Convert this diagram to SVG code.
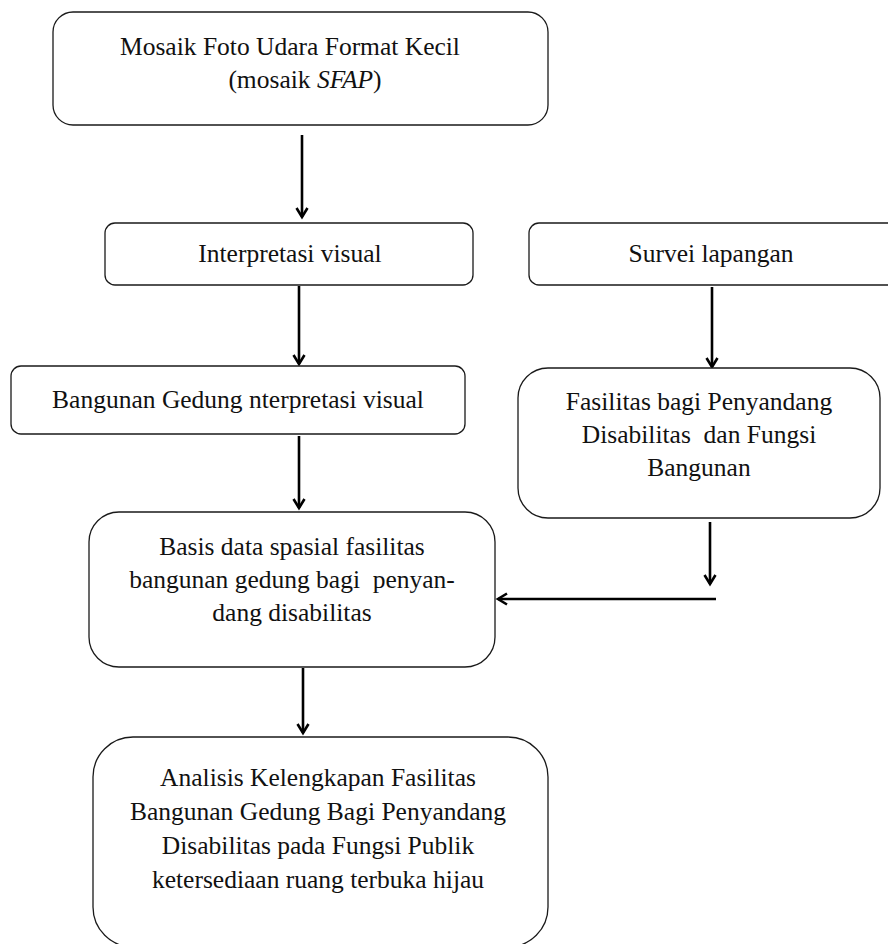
<svg xmlns="http://www.w3.org/2000/svg" width="888" height="944" viewBox="0 0 888 944">
<style>
.box{fill:#fff;stroke:#1a1a1a;stroke-width:1.3}
.t{font-family:"Liberation Serif","Times New Roman",serif;font-size:25.5px;fill:#111;text-anchor:middle}
.c{fill:none;stroke:#000;stroke-width:2.6}
</style>
<defs>
<marker id="ah" markerWidth="16" markerHeight="16" viewBox="-12 -8 16 16" refX="0" refY="0" orient="auto" markerUnits="userSpaceOnUse">
<path d="M-9,-5.5 L0,0 L-9,5.5" fill="none" stroke="#000" stroke-width="2.6"/>
</marker>
</defs>
<rect width="888" height="944" fill="#fff"/>
<g id="connectors">
<line class="c" x1="302" y1="135" x2="302" y2="217" marker-end="url(#ah)"/>
<line class="c" x1="299" y1="286" x2="299" y2="364" marker-end="url(#ah)"/>
<line class="c" x1="712" y1="287" x2="712" y2="367" marker-end="url(#ah)"/>
<line class="c" x1="299" y1="436" x2="299" y2="508" marker-end="url(#ah)"/>
<line class="c" x1="710" y1="522" x2="710" y2="584" marker-end="url(#ah)"/>
<line class="c" x1="716" y1="599" x2="498" y2="599" marker-end="url(#ah)"/>
<line class="c" x1="303" y1="668" x2="303" y2="733" marker-end="url(#ah)"/>
</g>
<g id="n1">
<rect class="box" x="53" y="12" width="495" height="113" rx="20"/>
<text class="t" x="290" y="55">Mosaik Foto Udara Format Kecil</text>
<text class="t" x="305" y="88">(mosaik <tspan font-style="italic">SFAP</tspan>)</text>
</g>
<g id="n2">
<rect class="box" x="105" y="223" width="368" height="62" rx="10"/>
<text class="t" x="290" y="262">Interpretasi visual</text>
</g>
<g id="n3">
<rect class="box" x="529" y="223" width="370" height="62" rx="10"/>
<text class="t" x="711" y="262">Survei lapangan</text>
</g>
<g id="n4">
<rect class="box" x="11" y="366" width="454" height="68" rx="10"/>
<text class="t" x="238" y="408">Bangunan Gedung nterpretasi visual</text>
</g>
<g id="n5">
<rect class="box" x="518" y="368" width="362" height="150" rx="30"/>
<text class="t" x="699" y="410">Fasilitas bagi Penyandang</text>
<text class="t" x="699" y="443" xml:space="preserve">Disabilitas  dan Fungsi</text>
<text class="t" x="699" y="476">Bangunan</text>
</g>
<g id="n6">
<rect class="box" x="89" y="512" width="406" height="155" rx="30"/>
<text class="t" x="292" y="555">Basis data spasial fasilitas</text>
<text class="t" x="292" y="588" xml:space="preserve">bangunan gedung bagi  penyan-</text>
<text class="t" x="292" y="621">dang disabilitas</text>
</g>
<g id="n7">
<rect class="box" x="93" y="737" width="455" height="210" rx="40"/>
<text class="t" x="318" y="786">Analisis Kelengkapan Fasilitas</text>
<text class="t" x="318" y="820">Bangunan Gedung Bagi Penyandang</text>
<text class="t" x="318" y="854">Disabilitas pada Fungsi Publik</text>
<text class="t" x="318" y="888">ketersediaan ruang terbuka hijau</text>
</g>
</svg>
